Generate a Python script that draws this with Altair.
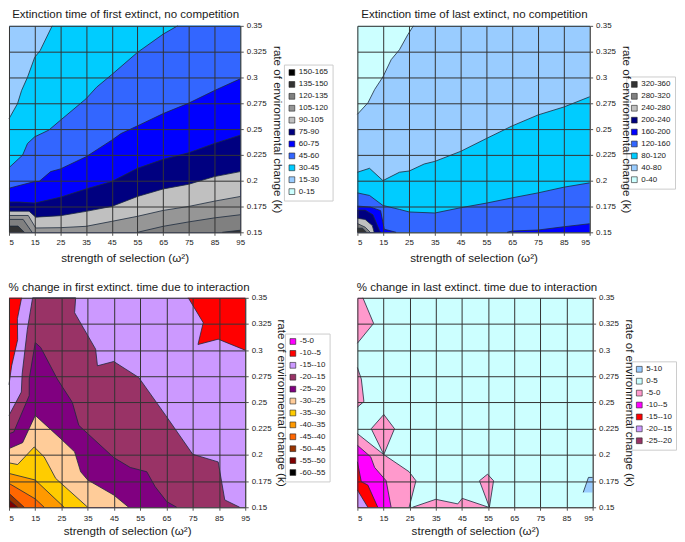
import altair as alt
import pandas as pd

FONT = "Liberation Sans"
X_TICKS = [5, 15, 25, 35, 45, 55, 65, 75, 85, 95]
Y_TICKS = [0.15, 0.175, 0.2, 0.225, 0.25, 0.275, 0.3, 0.325, 0.35]
LEFT, RIGHT, TOP, BOTTOM = 5, 95, 0.35, 0.15
TL, TR, BL, BR = (LEFT, TOP), (RIGHT, TOP), (LEFT, BOTTOM), (RIGHT, BOTTOM)

# ---------- panel 1 ----------
P1_LABELS = ["150-165", "135-150", "120-135", "105-120", "90-105", "75-90", "60-75", "45-60", "30-45", "15-30", "0-15"]
P1_COLORS = ["#000000", "#333333", "#808080", "#969696", "#C0C0C0", "#000080", "#0000FF", "#3366FF", "#00CCFF", "#99CCFF", "#CCFFFF"]
P1_POLYS = [
    ("15-30", [], [TL, TR, BR, BL]),
    ("30-45", [(5, .26), (8.3, .2746), (9.9, .2874), (12.2, .3002), (15, .3195), (17.1, .326), (21.8, .35)], [TR, BR, BL]),
    ("45-60", [(5, .2126), (10.3, .2248), (12.2, .236), (15, .2425), (20.5, .249), (25, .2585), (35, .2794), (39.1, .2906), (45, .3028), (55, .3243), (65, .342), (70.6, .35)], [TR, BR, BL]),
    ("60-75", [(5, .1927), (15, .1992), (16.7, .1992), (21.2, .2088), (25, .2114), (35, .2232), (45, .2393), (48.6, .2457), (55, .2531), (65, .265), (75, .2752), (85, .2874), (95, .2987)], [BR, BL]),
    ("75-90", [(5, .1793), (9, .1793), (15, .1783), (25, .184), (35, .192), (45, .1992), (55, .212), (65, .2207), (75, .2271), (85, .2361), (95, .2441)], [BR, BL]),
    ("90-105", [(5, .1705), (12.8, .1705), (15.4, .1647), (25, .1661), (35, .1703), (45, .1751), (55, .1847), (65, .192), (75, .1966), (85, .204), (95, .2088)], [BR, BL]),
    ("105-120", [(5, .1663), (12.5, .1663), (15.4, .1542), (25, .1545), (35, .1558), (45, .1606), (55, .1655), (65, .1712), (75, .1751), (85, .1802), (95, .1847)], [BR, BL]),
    ("120-135", [(5, .1625), (10.5, .1625), (14, .15)], [BL]),
    ("120-135", [(55, .15), (65, .1558), (75, .1601), (85, .164), (95, .167)], [BR]),
    ("135-150", [(5, .156), (8.5, .156), (11, .15)], [BL]),
    ("135-150", [(88, .15), (95, .152)], [BR]),
]

# ---------- panel 2 ----------
P2_LABELS = ["320-360", "280-320", "240-280", "200-240", "160-200", "120-160", "80-120", "40-80", "0-40"]
P2_COLORS = ["#333333", "#808080", "#C0C0C0", "#000080", "#0000FF", "#3366FF", "#00CCFF", "#99CCFF", "#CCFFFF"]
P2_POLYS = [
    ("0-40", [], [TL, TR, BR, BL]),
    ("40-80", [(5, .2643), (9.1, .2755), (11.7, .2884), (14.9, .3006), (18.1, .3173), (21.3, .3269), (24.5, .3413), (26.7, .35)], [TR, BR, BL]),
    ("80-120", [(5, .2082), (9.7, .212), (14.9, .2001), (21.3, .2082), (25.1, .2094), (30.9, .2162), (35, .2187), (45, .2284), (55, .2409), (65, .2531), (75, .2637), (85, .2714), (95, .2813)], [BR, BL]),
    ("120-160", [(5, .1882), (9.7, .1857), (14.9, .176), (21.3, .1722), (25.1, .1697), (35, .1687), (45, .1738), (55, .1783), (65, .1834), (75, .1882), (85, .1937), (95, .1979)], [BR, BL]),
    ("160-200", [(5, .1754), (10, .1745), (14, .171), (15.4, .153), (20, .15)], [BL]),
    ("160-200", [(63, .15), (65, .1513), (75, .1522), (85, .1554), (95, .1583)], [BR]),
    ("200-240", [(5, .1715), (8, .1715), (11, .167), (13.5, .152), (14, .15)], [BL]),
    ("240-280", [(5, .1636), (8, .1625), (10.8, .1565), (11.5, .15)], [BL]),
    ("280-320", [(5, .1585), (8, .155), (10, .15)], [BL]),
    ("320-360", [(5, .154), (7, .154), (8.5, .15)], [BL]),
]

# ---------- panel 3 ----------
P3_LABELS = ["-5-0", "-10--5", "-15--10", "-20--15", "-25--20", "-30--25", "-35--30", "-40--35", "-45--40", "-50--45", "-55--50", "-60--55"]
P3_COLORS = ["#FF00FF", "#FF0000", "#CC99FF", "#993366", "#800080", "#FFCC99", "#FFCC00", "#FF9900", "#FF6600", "#993300", "#800000", "#000000"]
P3_POLYS = [
    ("-15--10", [], [TL, TR, BR, BL]),
    ("-10--5", [(9.8, .35), (8.2, .33), (8.3, .31), (6, .285), (5, .267)], [TL]),
    ("-10--5", [(73.3, .35), (79, .3263), (77, .3054), (84.7, .3105), (95, .3)], [TR]),
    ("-20--15", [(5, .2377), (9.7, .26), (10, .277), (12, .32), (14, .35), (30.4, .35), (30, .3358), (38, .301), (38.7, .2851), (44.9, .2892), (54.4, .274), (64.7, .2377), (75, .2006), (84.7, .1933), (87.2, .157), (92.9, .15)], [BL]),
    ("-25--20", [(5, .2203), (6.8, .2218), (12.7, .2566), (12.7, .2725), (15, .3073), (17.1, .3025), (23.4, .2725), (29.1, .2503), (31.6, .2282), (35, .2203), (44.9, .1975), (51.2, .188), (57.5, .1839), (60.7, .1696), (65.1, .1554), (68.9, .15)], [BL]),
    ("-30--25", [(5, .206), (10.2, .2117), (15, .2377), (24.7, .2155), (30, .2029), (32.3, .1839), (35, .176), (44.9, .1617), (50.6, .15)], [BL]),
    ("-35--30", [(5, .1924), (8.3, .1908), (14.6, .2076), (18.4, .1981), (22.8, .1775), (35, .15)], [BL]),
    ("-40--35", [(5, .1823), (15, .176), (26, .15)], [BL]),
    ("-45--40", [(5, .1728), (15, .158), (18.4, .15)], [BL]),
    ("-50--45", [(5, .1633), (10.8, .15)], [BL]),
    ("-55--50", [(5, .157), (8.3, .15)], [BL]),
]

# ---------- panel 4 ----------
P4_LABELS = ["5-10", "0-5", "-5-0", "-10--5", "-15--10", "-20--15", "-25--20"]
P4_COLORS = ["#99CCFF", "#CCFFFF", "#FF99CC", "#FF00FF", "#FF0000", "#CC99FF", "#993366"]
P4_POLYS = [
    ("0-5", [], [TL, TR, BR, BL]),
    ("-5-0", [(7.1, .35), (11.2, .3256), (5, .3066)], [TL]),
    ("-5-0", [(5, .2835), (6.5, .2725), (7.5, .2509), (5, .2456)], []),
    ("-5-0", [(15.1, .2386), (19.2, .225), (15.1, .2003), (10.3, .225), (15.1, .2386)], []),
    ("-5-0", [(5, .2203), (15.1, .2003), (24.8, .1839), (27.4, .1753), (24.8, .15)], [BL]),
    ("-5-0", [(26.1, .15), (35, .1576), (43.4, .1532), (45.1, .1585), (55.2, .15)], []),
    ("-5-0", [(51.7, .1753), (54.8, .1816), (57.1, .1753), (55.5, .15), (51.7, .1753)], []),
    ("5-10", [(91.4, .1642), (93.4, .1785), (95, .1785)], [(95, .1642)]),
    ("-10--5", [(5, .2092), (10.1, .1981), (11.6, .188), (16, .1753), (17.9, .15)], [BL]),
    ("-15--10", [(5, .1934), (6.5, .1744), (9, .1712), (12.8, .15)], [BL]),
    ("-20--15", [(5, .1665), (9, .15)], [BL]),
]

AXIS = dict(labelFont=FONT, titleFont=FONT, labelFontSize=8, titleFontSize=11.7, titleFontWeight="normal",
            labelColor="#1a1a1a", titleColor="#1a1a1a", gridColor="#333333", gridWidth=1, grid=True,
            domain=False, tickColor="#555555", tickSize=3, zindex=1)


def panel(title, labels, colors, polys, width, height, legend_xy, flush_left, title_dx, label_pad, title_pad, offset):
    fills, curves = [], []
    for i, (band, curve, close) in enumerate(polys):
        for j, (x, y) in enumerate(list(curve) + list(close)):
            fills.append(dict(poly=i, idx=j, x=x, y=y, band=band))
        for j, (x, y) in enumerate(curve):
            curves.append(dict(poly=i, idx=j, x=x, y=y))
    x_axis = dict(AXIS)
    if flush_left:
        x_axis["labelAlign"] = {"condition": {"test": "datum.value == 5", "value": "left"}, "value": "center"}
    xenc = alt.X("x:Q", scale=alt.Scale(domain=[LEFT, RIGHT], nice=False, zero=False),
                 axis=alt.Axis(values=X_TICKS, tickCount=len(X_TICKS), title="strength of selection (ω²)", format="d",
                               labelPadding=label_pad, titlePadding=title_pad, labelOverlap=False, **x_axis))
    yenc = alt.Y("y:Q", scale=alt.Scale(domain=[BOTTOM, TOP], nice=False, zero=False),
                 axis=alt.Axis(values=Y_TICKS, tickCount=len(Y_TICKS), orient="right", format=".3~f",
                               title="rate of environmental change (k)", titleAngle=90, titlePadding=5,
                               labelPadding=3, labelOverlap=False, **AXIS))
    fill_layer = alt.Chart(pd.DataFrame(fills)).mark_line(strokeWidth=0, interpolate="linear-closed").encode(
        x=xenc, y=yenc,
        fill=alt.Fill("band:N", scale=alt.Scale(domain=labels, range=colors),
                      legend=alt.Legend(title=None, orient="none", legendX=legend_xy[0], legendY=legend_xy[1],
                                        symbolType="square", symbolSize=34, symbolStrokeColor="#222222",
                                        symbolStrokeWidth=0.6, symbolOpacity=1, labelFont=FONT, labelFontSize=8,
                                        labelColor="#1a1a1a", labelOffset=3, rowPadding=2, strokeColor="#cccccc",
                                        fillColor="white", padding=4, values=labels)),
        detail="poly:N", order="idx:Q")
    line_layer = alt.Chart(pd.DataFrame(curves)).mark_line(stroke="#1c2a3c", strokeWidth=0.8).encode(
        x="x:Q", y="y:Q", detail="poly:N", order="idx:Q")
    return alt.layer(fill_layer, line_layer).properties(
        width=width, height=height,
        title=alt.TitleParams(title, font=FONT, fontSize=11.6, fontWeight="normal", color="#1a1a1a",
                              anchor="middle", offset=offset, dx=title_dx))


chart = alt.concat(
    panel("Extinction time of first extinct, no competition", P1_LABELS, P1_COLORS, P1_POLYS, 233, 208, (277, 39), True, 1, 3, 6, 1),
    panel("Extinction time of last extinct, no competition", P2_LABELS, P2_COLORS, P2_POLYS, 234, 208, (271, 51), False, 1, 3, 6, 1),
    panel("% change in first extinct. time due to interaction", P3_LABELS, P3_COLORS, P3_POLYS, 238, 211, (278, 36), True, 2, 4, 3, 0),
    panel("% change in last extinct. time due to interaction", P4_LABELS, P4_COLORS, P4_POLYS, 237, 211, (276, 64), False, 2, 4, 3, 0),
    columns=2, spacing=alt.RowColnumber(row=66, column=113),
).resolve_scale(fill="independent").resolve_legend(fill="independent").properties(
    bounds="flush", padding={"left": -2, "top": -2, "right": 0, "bottom": 0}, background="white"
).configure_view(stroke="#808080", strokeWidth=1)

chart.save("out.html", embed_options={"renderer": "svg", "actions": False})
